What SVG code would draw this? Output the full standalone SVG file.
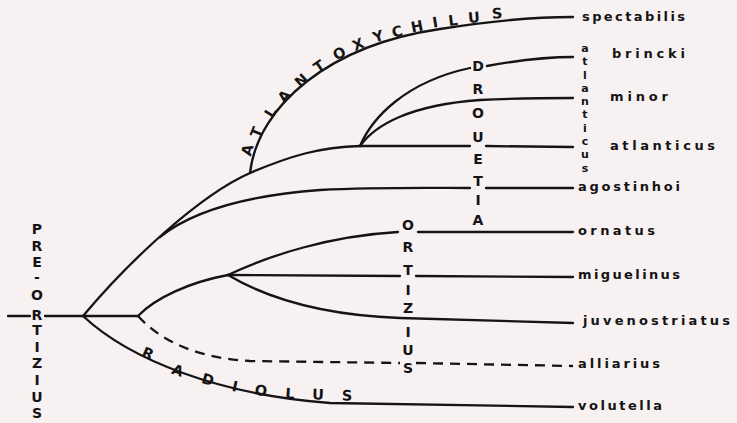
<svg xmlns="http://www.w3.org/2000/svg" width="737" height="423" viewBox="0 0 737 423">
<style>
.ln{fill:none;stroke:#141414;stroke-width:2.3;stroke-linecap:round}
.ds{fill:none;stroke:#141414;stroke-width:2.3;stroke-dasharray:10 7}
.tx{font-family:"DejaVu Sans","Liberation Sans",sans-serif;font-weight:bold;font-size:13px;fill:#141414}
.cl{font-family:"DejaVu Sans","Liberation Sans",sans-serif;font-weight:bold;font-size:14px;fill:#141414;text-anchor:middle}
.cv{font-family:"DejaVu Sans","Liberation Sans",sans-serif;font-weight:bold;font-size:14.5px;fill:#141414;text-anchor:middle}
.vs{font-family:"DejaVu Sans","Liberation Sans",sans-serif;font-weight:bold;font-size:11px;fill:#141414;text-anchor:middle}
</style>
<rect width="737" height="423" fill="#f7f1f1"/>
<g id="connectors">
<path class="ln" d="M8,316 L30,316 M45,316 L138,316"/>
<path class="ln" d="M83,316 C130,260 200,195 250,173 C290,156 320,147 360,146 L470,146 M486,146 L573,147"/>
<path class="ln" d="M250,173 C258,105 330,45 440,29 C490,21 530,17 573,17"/>
<path class="ln" d="M160,237 C190,213 240,196 320,190 C380,187 430,188 470,188 M486,188 L573,188"/>
<path class="ln" d="M360,146 C372,118 405,82 470,68 M487,66 C520,60 545,57 573,57"/>
<path class="ln" d="M360,146 C375,125 410,105 480,100 C520,98 550,98 573,98"/>
<path class="ln" d="M138,316 C155,298 190,282 228,275"/>
<path class="ln" d="M228,275 C270,255 330,236 398,232 M418,232 L573,232"/>
<path class="ln" d="M228,275 L400,276 M416,276 L573,277"/>
<path class="ln" d="M228,275 C265,297 320,315 400,318 L573,323"/>
<path class="ds" d="M138,316 C160,340 195,358 250,361 L400,363"/>
<path class="ds" d="M416,363 L573,366"/>
<path class="ln" d="M83,316 C130,360 220,395 330,403 L573,407"/>
</g>
<g id="clade-pre-ortizius">
<text class="cl" x="37" y="234">P</text>
<text class="cl" x="37" y="251">R</text>
<text class="cl" x="37" y="267">E</text>
<text class="cl" x="37" y="282">-</text>
<text class="cl" x="37" y="300">O</text>
<text class="cl" x="37" y="319.5">R</text>
<text class="cl" x="37" y="335">T</text>
<text class="cl" x="37" y="352">I</text>
<text class="cl" x="37" y="368">Z</text>
<text class="cl" x="37" y="385">I</text>
<text class="cl" x="37" y="402">U</text>
<text class="cl" x="37" y="418">S</text>
</g>
<g id="clade-drouetia">
<text class="cl" x="478" y="71">D</text>
<text class="cl" x="478" y="94">R</text>
<text class="cl" x="478" y="118">O</text>
<text class="cl" x="478" y="142">U</text>
<text class="cl" x="478" y="164">E</text>
<text class="cl" x="478" y="186">T</text>
<text class="cl" x="478" y="205">I</text>
<text class="cl" x="478" y="225">A</text>
</g>
<g id="clade-ortizius">
<text class="cl" x="408" y="230">O</text>
<text class="cl" x="408" y="252">R</text>
<text class="cl" x="408" y="275">T</text>
<text class="cl" x="408" y="295">I</text>
<text class="cl" x="408" y="313">Z</text>
<text class="cl" x="408" y="337">I</text>
<text class="cl" x="408" y="355">U</text>
<text class="cl" x="408" y="373">S</text>
</g>
<g id="clade-atlanticus">
<text class="vs" x="585" y="52">a</text>
<text class="vs" x="585" y="65">t</text>
<text class="vs" x="585" y="79">l</text>
<text class="vs" x="585" y="92">a</text>
<text class="vs" x="585" y="105">n</text>
<text class="vs" x="585" y="118">t</text>
<text class="vs" x="585" y="132">i</text>
<text class="vs" x="585" y="145">c</text>
<text class="vs" x="585" y="158">u</text>
<text class="vs" x="585" y="172">s</text>
</g>
<g id="clade-atlantoxychilus">
<text class="cv" transform="translate(247,150) rotate(-75)" y="5.5">A</text>
<text class="cv" transform="translate(256,132) rotate(-68)" y="5.5">T</text>
<text class="cv" transform="translate(270,112) rotate(-58)" y="5.5">L</text>
<text class="cv" transform="translate(284,96) rotate(-50)" y="5.5">A</text>
<text class="cv" transform="translate(301,80) rotate(-42)" y="5.5">N</text>
<text class="cv" transform="translate(319,66) rotate(-35)" y="5.5">T</text>
<text class="cv" transform="translate(339,53) rotate(-28)" y="5.5">O</text>
<text class="cv" transform="translate(358,44) rotate(-23)" y="5.5">X</text>
<text class="cv" transform="translate(378,36) rotate(-18)" y="5.5">Y</text>
<text class="cv" transform="translate(397,31) rotate(-14)" y="5.5">C</text>
<text class="cv" transform="translate(417,26) rotate(-11)" y="5.5">H</text>
<text class="cv" transform="translate(435,22) rotate(-9)" y="5.5">I</text>
<text class="cv" transform="translate(453,20) rotate(-7)" y="5.5">L</text>
<text class="cv" transform="translate(474,17) rotate(-5)" y="5.5">U</text>
<text class="cv" transform="translate(497,13) rotate(-4)" y="5.5">S</text>
</g>
<g id="clade-radiolus">
<text class="cv" transform="translate(148,353) rotate(24)" y="5.5">R</text>
<text class="cv" transform="translate(178,370) rotate(20)" y="5.5">A</text>
<text class="cv" transform="translate(208,379) rotate(16)" y="5.5">D</text>
<text class="cv" transform="translate(235,386) rotate(12)" y="5.5">I</text>
<text class="cv" transform="translate(261,390) rotate(7)" y="5.5">O</text>
<text class="cv" transform="translate(290,393) rotate(4)" y="5.5">L</text>
<text class="cv" transform="translate(318,394) rotate(2)" y="5.5">U</text>
<text class="cv" transform="translate(347,395) rotate(1)" y="5.5">S</text>
</g>
<g id="taxon-spectabilis"><text class="tx" x="582" y="21" textLength="103" lengthAdjust="spacing">spectabilis</text></g>
<g id="taxon-brincki"><text class="tx" x="612" y="58" textLength="73" lengthAdjust="spacing">brincki</text></g>
<g id="taxon-minor"><text class="tx" x="610" y="101" textLength="58" lengthAdjust="spacing">minor</text></g>
<g id="taxon-atlanticus"><text class="tx" x="610" y="150" textLength="105" lengthAdjust="spacing">atlanticus</text></g>
<g id="taxon-agostinhoi"><text class="tx" x="578" y="191" textLength="102" lengthAdjust="spacing">agostinhoi</text></g>
<g id="taxon-ornatus"><text class="tx" x="578" y="235" textLength="77" lengthAdjust="spacing">ornatus</text></g>
<g id="taxon-miguelinus"><text class="tx" x="578" y="279" textLength="102" lengthAdjust="spacing">miguelinus</text></g>
<g id="taxon-juvenostriatus"><text class="tx" x="583" y="325" textLength="147" lengthAdjust="spacing">juvenostriatus</text></g>
<g id="taxon-alliarius"><text class="tx" x="578" y="368" textLength="82" lengthAdjust="spacing">alliarius</text></g>
<g id="taxon-volutella"><text class="tx" x="578" y="410" textLength="84" lengthAdjust="spacing">volutella</text></g>
</svg>
